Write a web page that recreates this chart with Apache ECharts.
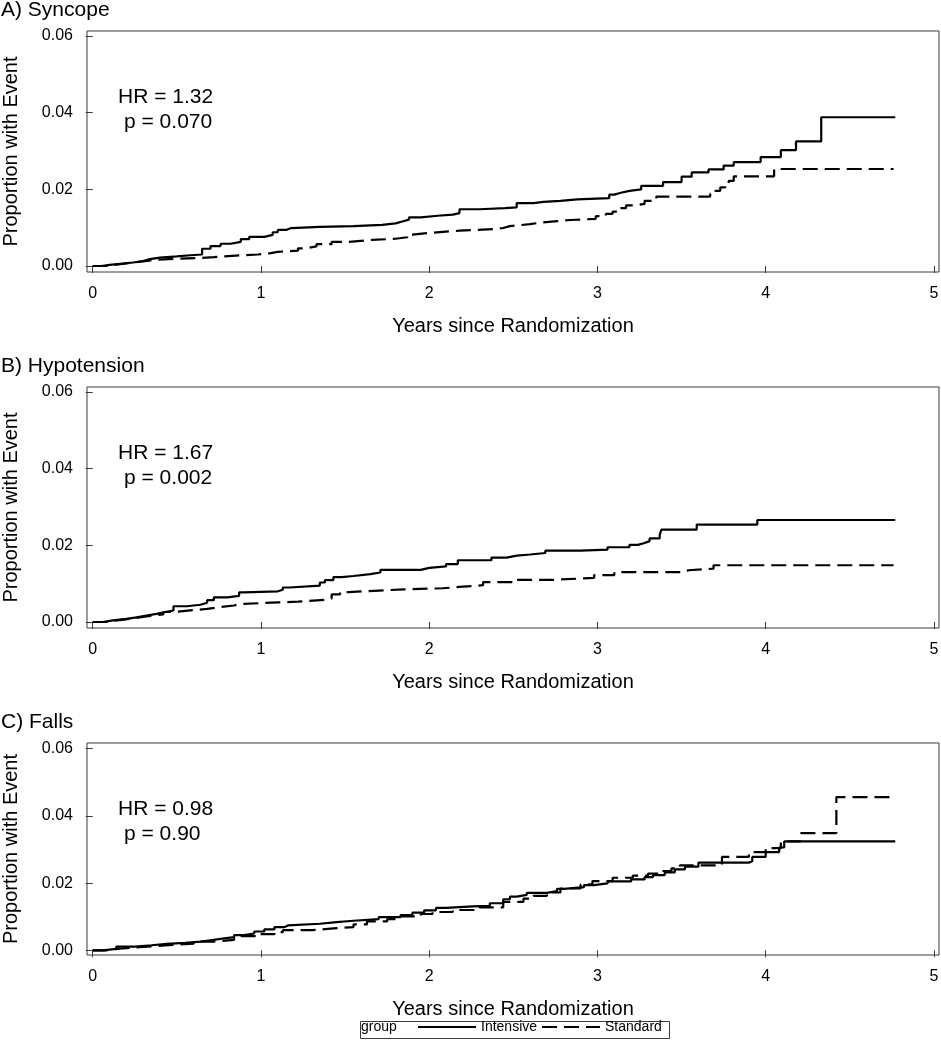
<!DOCTYPE html>
<html>
<head>
<meta charset="utf-8">
<script src="https://cdn.jsdelivr.net/npm/echarts@6/dist/echarts.min.js"></script>
<style>
html,body{margin:0;padding:0;background:#ffffff;}
#chart{width:941px;height:1050px;}
</style>
</head>
<body>
<div id="chart"></div>
<script>
// ---------- data ----------
const panelTitles = ['A) Syncope', 'B) Hypotension', 'C) Falls'];
const hrLabels = ['HR = 1.32', 'HR = 1.67', 'HR = 0.98'];
const pLabels = ['p = 0.070', 'p = 0.002', 'p = 0.90'];
const groupNames = ['Intensive', 'Standard'];
const xTicks = [0, 1, 2, 3, 4, 5];
const yTicks = [0, 0.02, 0.04, 0.06];
const xAxisTitle = 'Years since Randomization';
const yAxisTitle = 'Proportion with Event';

// Kaplan-Meier style cumulative proportions: [years, proportion]
const syncopeIntensive = [[0,0],[0.05,0.0003],[0.1,0.0006],[0.18,0.0009],[0.24,0.0013],[0.3,0.0018],[0.34,0.0022],[0.4,0.0025],[0.5,0.0028],[0.58,0.003],[0.65,0.0045],[0.7,0.0052],[0.76,0.0058],[0.82,0.0063],[0.88,0.007],[0.93,0.0076],[1.02,0.0081],[1.07,0.0088],[1.1,0.0094],[1.15,0.0099],[1.18,0.0102],[1.35,0.0104],[1.55,0.0107],[1.72,0.0111],[1.8,0.0116],[1.84,0.0121],[1.88,0.0127],[1.95,0.0131],[2.05,0.0134],[2.14,0.0138],[2.18,0.0148],[2.3,0.0151],[2.45,0.0153],[2.52,0.0164],[2.62,0.0167],[2.68,0.017],[2.78,0.0174],[2.88,0.0177],[3.07,0.0186],[3.1,0.0191],[3.14,0.0196],[3.19,0.02],[3.26,0.0209],[3.39,0.0219],[3.5,0.0233],[3.56,0.0244],[3.66,0.0252],[3.75,0.0262],[3.81,0.0271],[3.97,0.0284],[4.09,0.0302],[4.18,0.0325],[4.33,0.0388],[4.77,0.0388]];
const syncopeStandard = [[0,0],[0.08,0.0004],[0.15,0.0008],[0.22,0.0012],[0.3,0.0016],[0.38,0.0019],[0.5,0.0021],[0.64,0.0023],[0.72,0.0027],[0.85,0.003],[0.98,0.0033],[1.05,0.0037],[1.1,0.004],[1.22,0.0046],[1.26,0.0051],[1.33,0.0057],[1.42,0.0063],[1.52,0.0068],[1.66,0.0071],[1.8,0.0075],[1.87,0.0082],[1.9,0.0087],[2.02,0.0092],[2.18,0.0096],[2.38,0.0099],[2.44,0.0104],[2.48,0.0109],[2.6,0.0113],[2.66,0.0117],[2.76,0.012],[2.84,0.0123],[2.99,0.013],[3.05,0.0136],[3.09,0.0142],[3.12,0.0151],[3.17,0.0158],[3.22,0.0162],[3.28,0.017],[3.35,0.0181],[3.67,0.0188],[3.7,0.0196],[3.73,0.0205],[3.76,0.0213],[3.78,0.0222],[3.81,0.0234],[4.05,0.0253],[4.76,0.0253]];
const hypotensionIntensive = [[0,0],[0.06,0.0004],[0.12,0.0008],[0.2,0.0012],[0.26,0.0017],[0.32,0.0021],[0.38,0.0026],[0.43,0.003],[0.48,0.0041],[0.56,0.0045],[0.64,0.005],[0.68,0.0057],[0.72,0.0064],[0.8,0.0068],[0.87,0.0077],[0.9,0.008],[1.1,0.0084],[1.13,0.009],[1.17,0.0095],[1.35,0.0103],[1.38,0.0109],[1.43,0.0117],[1.48,0.012],[1.55,0.0125],[1.65,0.0129],[1.71,0.0136],[1.95,0.0141],[2.0,0.0145],[2.1,0.0151],[2.17,0.0161],[2.37,0.0168],[2.46,0.0173],[2.52,0.0176],[2.6,0.018],[2.69,0.0186],[2.9,0.0189],[3.06,0.0195],[3.19,0.0201],[3.24,0.0206],[3.28,0.0211],[3.31,0.0218],[3.37,0.0227],[3.38,0.0241],[3.59,0.0254],[3.95,0.0266],[4.77,0.0266]];
const hypotensionStandard = [[0,0],[0.08,0.0005],[0.16,0.001],[0.25,0.0015],[0.33,0.002],[0.42,0.0026],[0.48,0.0031],[0.6,0.0034],[0.68,0.0038],[0.74,0.0043],[0.84,0.0047],[0.88,0.0051],[1.1,0.0053],[1.22,0.0058],[1.38,0.0061],[1.42,0.0072],[1.47,0.0078],[1.52,0.0082],[1.7,0.0085],[1.85,0.0088],[2.08,0.0092],[2.2,0.0096],[2.32,0.0104],[2.52,0.011],[2.74,0.0115],[2.98,0.0122],[3.1,0.013],[3.52,0.0135],[3.54,0.0139],[3.69,0.0148],[4.76,0.0148]];
const fallsIntensive = [[0,0],[0.06,0.0004],[0.14,0.0011],[0.25,0.0015],[0.35,0.0019],[0.44,0.0022],[0.55,0.0026],[0.64,0.003],[0.7,0.0034],[0.76,0.0039],[0.84,0.0045],[0.9,0.005],[0.96,0.0056],[1.02,0.0062],[1.08,0.0069],[1.14,0.0074],[1.16,0.0079],[1.35,0.0084],[1.45,0.0088],[1.55,0.0093],[1.7,0.0099],[1.83,0.0105],[1.9,0.0112],[1.97,0.0119],[2.04,0.0126],[2.1,0.0131],[2.26,0.0132],[2.36,0.014],[2.44,0.0152],[2.48,0.016],[2.52,0.0165],[2.58,0.0171],[2.7,0.0176],[2.76,0.0183],[2.8,0.0188],[2.92,0.0194],[2.98,0.0199],[3.06,0.0205],[3.2,0.0211],[3.28,0.0218],[3.33,0.0224],[3.4,0.0232],[3.46,0.0241],[3.52,0.0249],[3.6,0.0261],[3.9,0.0265],[3.92,0.0278],[4.0,0.0292],[4.08,0.0306],[4.11,0.0324],[4.77,0.0324]];
const fallsStandard = [[0,0],[0.08,0.0005],[0.16,0.001],[0.3,0.0015],[0.45,0.002],[0.6,0.0026],[0.72,0.0031],[0.84,0.0042],[0.99,0.0048],[1.08,0.0054],[1.13,0.006],[1.3,0.0065],[1.43,0.0069],[1.55,0.0077],[1.63,0.0086],[1.75,0.0093],[1.83,0.0101],[1.95,0.0108],[2.02,0.0114],[2.14,0.012],[2.3,0.0128],[2.44,0.0144],[2.56,0.0154],[2.62,0.0162],[2.7,0.0172],[2.78,0.0184],[2.9,0.0196],[2.97,0.0206],[3.09,0.0216],[3.21,0.0222],[3.3,0.0228],[3.37,0.0236],[3.44,0.0244],[3.49,0.0253],[3.74,0.0278],[3.9,0.0292],[4.0,0.0304],[4.09,0.0324],[4.21,0.0349],[4.42,0.0456],[4.76,0.0456]];

const intensiveSeries = [syncopeIntensive, hypotensionIntensive, fallsIntensive];
const standardSeries = [syncopeStandard, hypotensionStandard, fallsStandard];

// ---------- layout ----------
const FONT = '"Liberation Sans", Arial, sans-serif';
const INK = '#000000';
const FRAME = '#3a3a3a';
const panels = [
  { top: 31,  height: 241, yMin: -0.00157, yMax: 0.0613 },
  { top: 387, height: 241, yMin: -0.00157, yMax: 0.0613 },
  { top: 743, height: 212, yMin: -0.0014,  yMax: 0.0617 }
];
const gridLeft = 87, gridWidth = 852;

const grid = [], xAxis = [], yAxis = [], series = [], title = [], graphic = [];

panels.forEach((p, i) => {
  grid.push({
    left: gridLeft, top: p.top, width: gridWidth, height: p.height,
    containLabel: false, outerBoundsMode: 'none',
    show: true, borderColor: FRAME, borderWidth: 1, backgroundColor: 'transparent'
  });
  xAxis.push({
    type: 'value', gridIndex: i, min: -0.034, max: 5.03,
    axisLine: { show: false },
    axisTick: { show: true, inside: false, length: 7, customValues: xTicks, lineStyle: { color: FRAME, width: 1 } },
    axisLabel: { show: true, customValues: xTicks, margin: 14, color: INK, fontFamily: FONT, fontSize: 16, formatter: v => String(v) },
    splitLine: { show: false },
    name: xAxisTitle, nameLocation: 'middle', nameGap: 44,
    nameTextStyle: { color: INK, fontFamily: FONT, fontSize: 20 }
  });
  yAxis.push({
    type: 'value', gridIndex: i, min: p.yMin, max: p.yMax,
    axisLine: { show: false },
    axisTick: { show: true, inside: false, length: 7, customValues: yTicks, lineStyle: { color: FRAME, width: 1 } },
    axisLabel: { show: true, customValues: yTicks, margin: 14, color: INK, fontFamily: FONT, fontSize: 16, formatter: v => v.toFixed(2) },
    splitLine: { show: false },
    name: yAxisTitle, nameLocation: 'middle', nameGap: 66, nameRotate: 90,
    nameTextStyle: { color: INK, fontFamily: FONT, fontSize: 20 }
  });
  series.push({
    name: groupNames[0], type: 'line', xAxisIndex: i, yAxisIndex: i,
    data: intensiveSeries[i], step: 'end', symbol: 'none', showSymbol: false,
    lineStyle: { color: INK, width: 2.2, type: 'solid' }, itemStyle: { color: INK },
    silent: true, z: 3
  });
  series.push({
    name: groupNames[1], type: 'line', xAxisIndex: i, yAxisIndex: i,
    data: standardSeries[i], step: 'end', symbol: 'none', showSymbol: false,
    lineStyle: { color: INK, width: 2.2, type: [15, 7] }, itemStyle: { color: INK },
    silent: true, z: 2
  });
  title.push({
    text: panelTitles[i], left: 1, top: p.top - 31, padding: 0,
    textStyle: { color: INK, fontFamily: FONT, fontSize: 21, fontWeight: 'normal' }
  });
  graphic.push({
    type: 'text', left: 118, top: p.top + 67 - 11,
    style: { text: hrLabels[i], fill: INK, font: '21px ' + FONT }
  });
  graphic.push({
    type: 'text', left: 124, top: p.top + 92 - 11,
    style: { text: pLabels[i], fill: INK, font: '21px ' + FONT }
  });
});

// legend frame and "group" label
graphic.push({
  type: 'rect', left: 358, top: 1019,
  shape: { width: 309, height: 17 },
  style: { fill: 'none', stroke: FRAME, lineWidth: 1 }
});
graphic.push({
  type: 'text', left: 361, top: 1020,
  style: { text: 'group', fill: INK, font: '14px ' + FONT }
});

const option = {
  animation: false,
  backgroundColor: '#ffffff',
  title, grid, xAxis, yAxis, series, graphic,
  legend: {
    data: groupNames, left: 417, top: 1020, padding: 0,
    itemWidth: 58, itemHeight: 14, itemGap: 4,
    itemStyle: { opacity: 0, borderWidth: 0, color: 'rgba(0,0,0,0)' },
    textStyle: { color: INK, fontFamily: FONT, fontSize: 14 },
    selectedMode: false
  }
};

const chart = echarts.init(document.getElementById('chart'), null, { renderer: 'canvas' });
chart.setOption(option);
</script>
</body>
</html>
